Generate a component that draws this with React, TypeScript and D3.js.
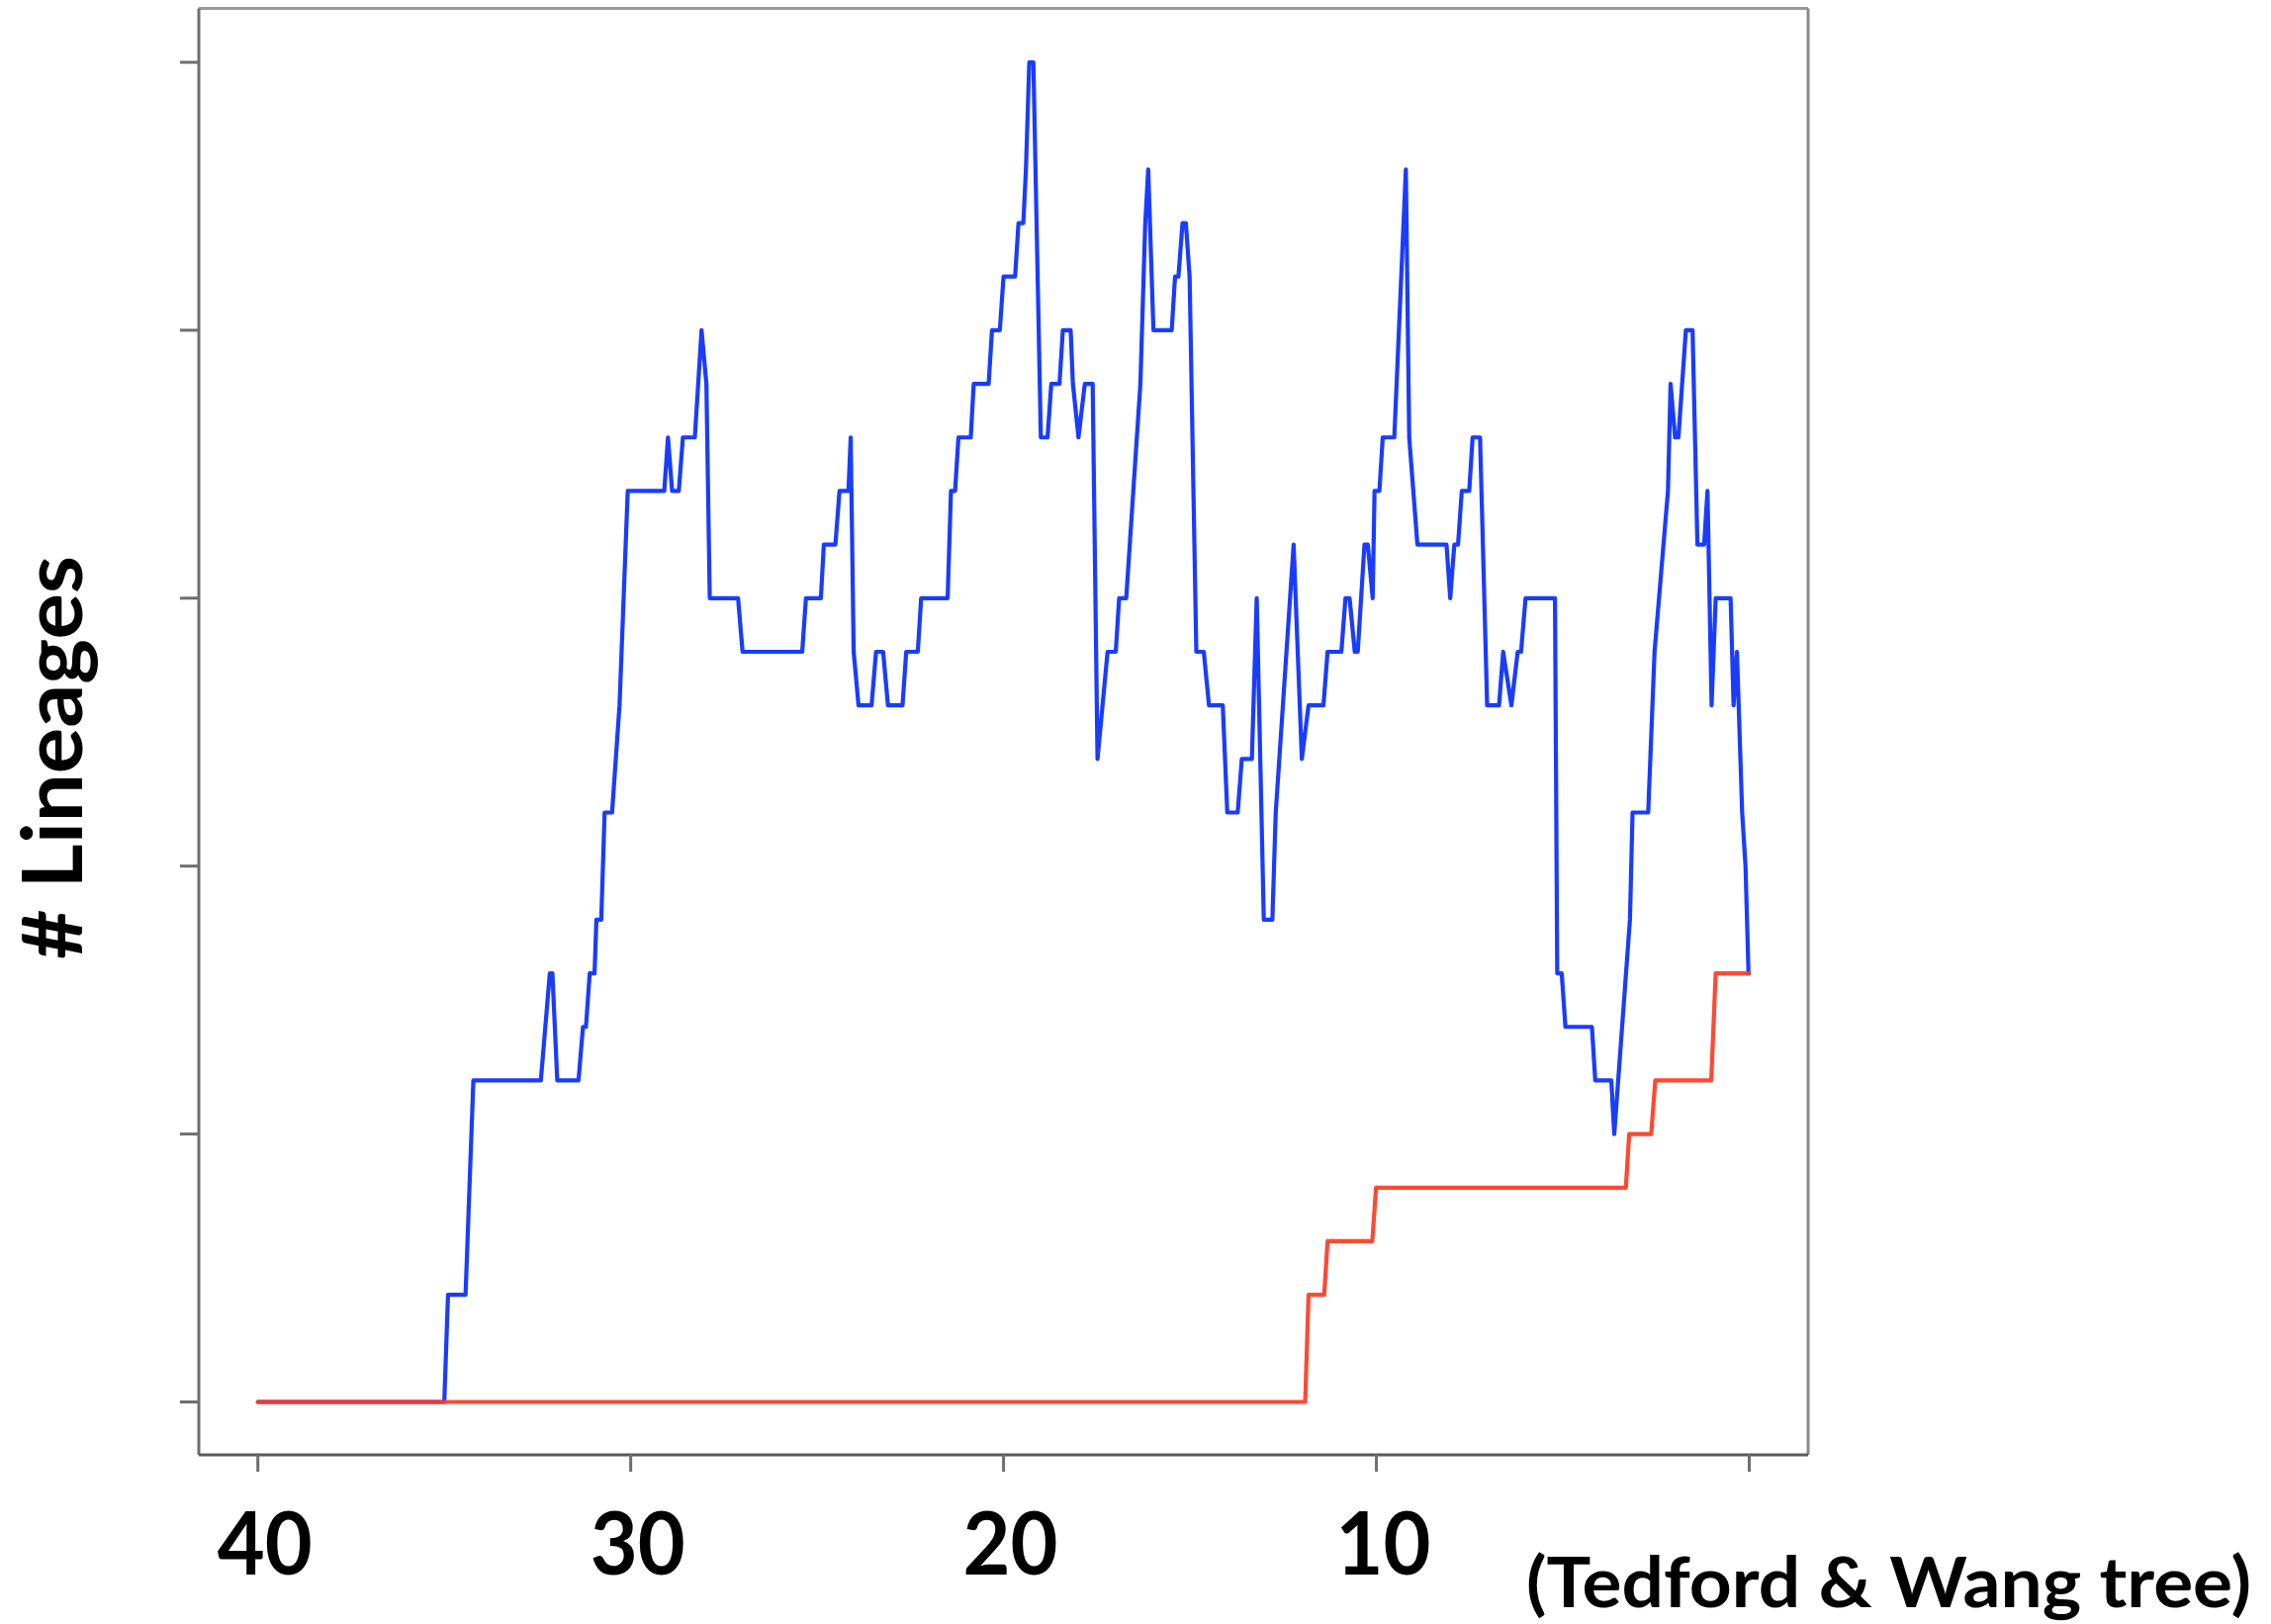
import React from "react";
import * as d3 from "d3";

// Time before present (Ma) and number of lineages
const blueTimes = [
  40, 35.0, 34.9, 34.43, 34.22, 32.41, 32.17, 32.1, 31.97, 31.4, 31.28, 31.2, 31.1, 30.97, 30.92, 30.79,
  30.7, 30.5, 30.3, 30.08, 29.1, 29.0, 28.89, 28.71, 28.6, 28.28, 28.1, 27.97, 27.88, 27.12, 27.0, 25.4,
  25.3, 24.9, 24.82, 24.51, 24.4, 24.16, 24.1, 24.02, 23.89, 23.54, 23.42, 23.23, 23.1, 22.71, 22.61, 22.3,
  22.21, 21.5, 21.41, 21.3, 21.21, 20.88, 20.8, 20.4, 20.31, 20.1, 20.0, 19.69, 19.6, 19.47, 19.4, 19.31,
  19.2, 19.0, 18.82, 18.72, 18.5, 18.41, 18.2, 18.14, 17.99, 17.82, 17.61, 17.48, 17.21, 16.99, 16.9, 16.71,
  16.33, 16.2, 16.12, 15.98, 15.49, 15.4, 15.31, 15.2, 15.11, 15.01, 14.83, 14.63, 14.49, 14.12, 14.0, 13.72,
  13.61, 13.34, 13.21, 13.02, 12.79, 12.7, 12.22, 12.0, 11.82, 11.42, 11.31, 10.94, 10.83, 10.72, 10.58, 10.5,
  10.32, 10.23, 10.1, 10.05, 9.92, 9.83, 9.52, 9.21, 9.12, 8.9, 8.12, 8.02, 7.91, 7.81, 7.71, 7.51,
  7.42, 7.22, 7.03, 6.71, 6.6, 6.38, 6.21, 6.12, 6.0, 5.21, 5.15, 5.03, 4.93, 4.22, 4.13, 3.7,
  3.62, 3.2, 3.13, 2.71, 2.54, 2.18, 2.11, 1.99, 1.9, 1.7, 1.52, 1.39, 1.21, 1.12, 1.01, 0.9,
  0.5, 0.42, 0.33, 0.19, 0.1, 0.02,
];
const blueCounts = [
  0, 0, 2, 2, 6, 6, 8, 8, 6, 6, 7, 7, 8, 8, 9, 9,
  11, 11, 13, 17, 17, 18, 17, 17, 18, 18, 20, 19, 15, 15, 14, 14,
  15, 15, 16, 16, 17, 17, 18, 14, 13, 13, 14, 14, 13, 13, 14, 14,
  15, 15, 17, 17, 18, 18, 19, 19, 20, 20, 21, 21, 22, 22, 23, 25,
  25, 18, 18, 19, 19, 20, 20, 19, 18, 19, 19, 12, 14, 14, 15, 15,
  19, 22, 23, 20, 20, 21, 21, 22, 22, 21, 14, 14, 13, 13, 11, 11,
  12, 12, 15, 9, 9, 11, 16, 12, 13, 13, 14, 14, 15, 15, 14, 14,
  16, 16, 15, 17, 17, 18, 18, 23, 18, 16, 16, 15, 16, 16, 17, 17,
  18, 18, 13, 13, 14, 13, 14, 14, 15, 15, 8, 8, 7, 7, 6, 6,
  5, 9, 11, 11, 14, 17, 19, 18, 18, 20, 20, 16, 16, 17, 13, 15,
  15, 13, 14, 11, 10, 8,
];

const redTimes = [40, 11.91, 11.82, 11.4, 11.31, 10.11, 10.01, 3.31, 3.22, 2.63, 2.52, 1.02, 0.9, 0.0];
const redCounts = [0, 0, 2, 2, 3, 3, 4, 4, 5, 5, 6, 6, 8, 8];

const xTicks = [40, 30, 20, 10, 0];
const xTickLabels = ["40", "30", "20", "10", ""];
const yTicks = [0, 5, 10, 15, 20, 25];

const yTitle = "# Lineages";
const xNote = "(Tedford & Wang tree)";

const W = 2296;
const H = 1642;
const FONT = "Lato, 'Open Sans', 'DejaVu Sans', sans-serif";

export default function App() {
  const x = d3.scaleLinear().domain([40, 0]).range([260.7, 1768.5]);
  const y = d3.scaleLinear().domain([0, 25]).range([1417.5, 63]);

  const box = { left: 201, right: 1828, top: 8.5, bottom: 1471 };

  const line = d3
    .line<[number, number]>()
    .x((d) => x(d[0]))
    .y((d) => y(d[1]));

  const blue = blueTimes.map((t, i) => [t, blueCounts[i]] as [number, number]);
  const red = redTimes.map((t, i) => [t, redCounts[i]] as [number, number]);

  return (
    <svg
      width={W}
      height={H}
      viewBox={`0 0 ${W} ${H}`}
      style={{ position: "absolute", left: 0, top: 0, background: "#fff" }}
    >
      <rect x={0} y={0} width={W} height={H} fill="#fff" />
      {/* plot box */}
      <line x1={box.left} x2={box.right} y1={box.top} y2={box.top} stroke="#9a9a9a" strokeWidth={3} />
      <line x1={box.right} x2={box.right} y1={box.top} y2={box.bottom} stroke="#8a8a8a" strokeWidth={3} />
      <line x1={box.left} x2={box.left} y1={box.top} y2={box.bottom} stroke="#6e6e6e" strokeWidth={3} />
      <line x1={box.left} x2={box.right} y1={box.bottom} y2={box.bottom} stroke="#5a5a5a" strokeWidth={3} />

      {/* y ticks */}
      {yTicks.map((v) => (
        <line key={"yt" + v} x1={box.left - 19} x2={box.left} y1={y(v)} y2={y(v)} stroke="#6e6e6e" strokeWidth={3} />
      ))}
      {/* x ticks */}
      {xTicks.map((v, i) => (
        <g key={"xt" + v}>
          <line x1={x(v)} x2={x(v)} y1={box.bottom} y2={box.bottom + 17} stroke="#6e6e6e" strokeWidth={3} />
          {xTickLabels[i] && (
            <text
              x={x(v) + 7}
              y={1592}
              textAnchor="middle"
              fontFamily={FONT}
              fontWeight={700}
              fontSize={88}
              fill="#000"
              textLength={96}
              lengthAdjust="spacingAndGlyphs"
            >
              {xTickLabels[i]}
            </text>
          )}
        </g>
      ))}

      {/* series */}
      <path d={line(blue) || ""} fill="none" stroke="#1a3cff" strokeWidth={4.2} strokeLinejoin="round" strokeLinecap="round" />
      <path d={line(red) || ""} fill="none" stroke="#ff3a22" strokeWidth={4.2} strokeLinejoin="round" strokeLinecap="round" opacity={0.92} />

      {/* y title */}
      <text
        transform="translate(83,766) rotate(-90)"
        textAnchor="middle"
        fontFamily={FONT}
        fontWeight={700}
        fontSize={84}
        fill="#000"
        textLength={408}
        lengthAdjust="spacingAndGlyphs"
      >
        {yTitle}
      </text>

      {/* note */}
      <text
        x={1543}
        y={1625}
        fontFamily={FONT}
        fontWeight={700}
        fontSize={70}
        fill="#000"
        textLength={733}
        lengthAdjust="spacingAndGlyphs"
      >
        {xNote}
      </text>
    </svg>
  );
}
